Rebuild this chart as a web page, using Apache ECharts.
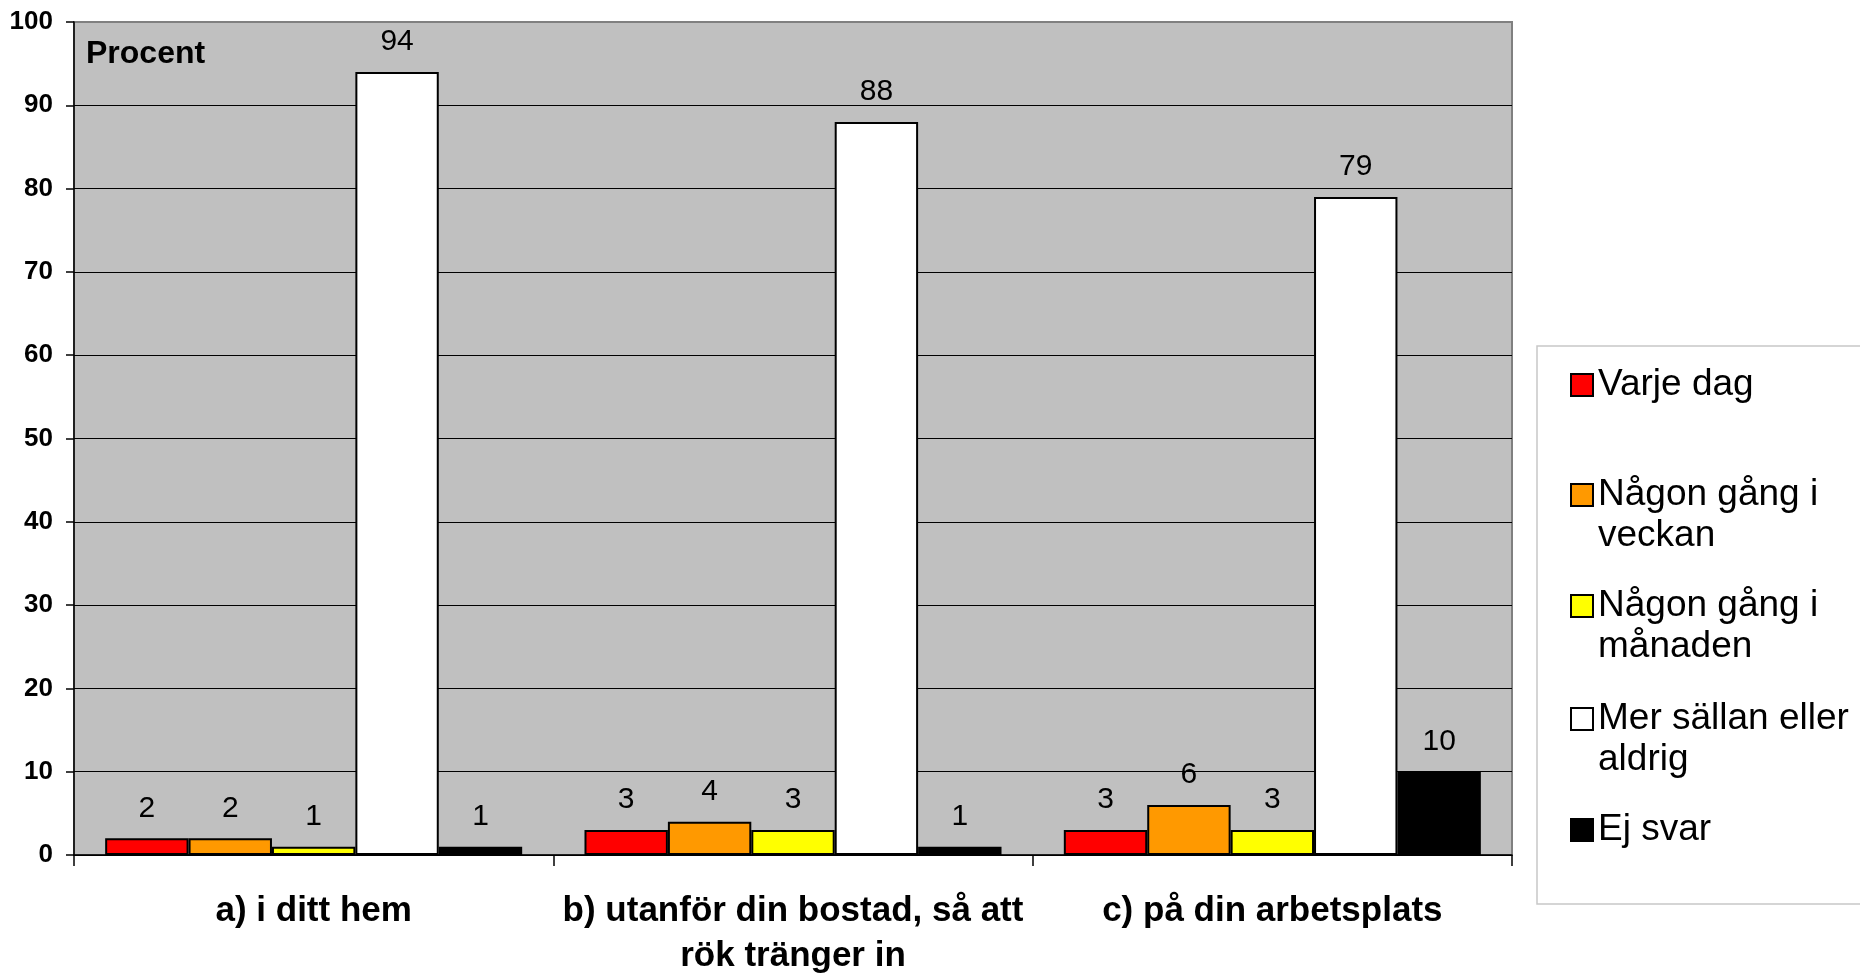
<!DOCTYPE html>
<html>
<head>
<meta charset="utf-8">
<script src="https://cdn.jsdelivr.net/npm/echarts@6/dist/echarts.min.js"></script>
<style>
html, body { margin: 0; padding: 0; background: #fff; }
#chart { width: 1860px; height: 974px; }
</style>
</head>
<body>
<div id="chart"></div>
<script>
var categories = ['a) i ditt hem', 'b) utanför din bostad, så att\nrök tränger in', 'c) på din arbetsplats'];
var seriesNames = ['Varje dag', 'Någon gång i veckan', 'Någon gång i månaden', 'Mer sällan eller aldrig', 'Ej svar'];
var legendLabels = ['Varje dag', 'Någon gång i\nveckan', 'Någon gång i\nmånaden', 'Mer sällan eller\naldrig', 'Ej svar'];
var colors = ['#FF0000', '#FF9900', '#FFFF00', '#FFFFFF', '#000000'];
var varjeDag = [2, 3, 3];
var veckan = [2, 4, 6];
var manaden = [1, 3, 3];
var sallan = [94, 88, 79];
var ejSvar = [1, 1, 10];
var values = [varjeDag, veckan, manaden, sallan, ejSvar];
var yTicks = [0, 10, 20, 30, 40, 50, 60, 70, 80, 90, 100];

var FONT = "'Liberation Sans', Arial, sans-serif";
var dom = document.getElementById('chart');
var myChart = echarts.init(dom);

var splitColors = [];
for (var i = 0; i < yTicks.length; i++) {
    splitColors.push(i === yTicks.length - 1 ? '#808080' : '#000000');
}

var series = [];
for (var s = 0; s < seriesNames.length; s++) {
    series.push({
        name: seriesNames[s],
        type: 'bar',
        data: values[s],
        barGap: '0%',
        barCategoryGap: '13%',
        itemStyle: { color: colors[s], borderColor: '#000', borderWidth: 2 },
        label: {
            show: true,
            position: 'top',
            distance: 15,
            color: '#000',
            fontFamily: FONT,
            fontSize: 30
        }
    });
}

// one legend per item; two-line texts get a blank first line so the
// marker (centred on the text block) sits level with the first real line
var legendCenters = [385, 495, 606, 719, 830];
var legends = [];
for (var k = 0; k < seriesNames.length; k++) {
    var twoLine = legendLabels[k].indexOf('\n') >= 0;
    legends.push({
        data: [seriesNames[k]],
        left: 1570,
        top: legendCenters[k] - (twoLine ? 61.5 : 20.5),
        padding: 0,
        itemWidth: 22,
        itemHeight: 22,
        icon: 'rect',
        selectedMode: false,
        itemStyle: { borderColor: '#000', borderWidth: 2 },
        formatter: function (name) {
            var lbl = legendLabels[seriesNames.indexOf(name)];
            return lbl.indexOf('\n') >= 0 ? ' \n' + lbl : lbl;
        },
        textStyle: {
            fontFamily: FONT,
            fontSize: 37,
            lineHeight: 41,
            color: '#000'
        }
    });
}

option = {
    backgroundColor: '#fff',
    animation: false,
    title: {
        text: 'Procent',
        left: 86,
        top: 38,
        padding: 0,
        textStyle: { fontFamily: FONT, fontSize: 32, fontWeight: 'bold', color: '#000' }
    },
    graphic: [{
        type: 'rect',
        z: -1,
        shape: { x: 1537, y: 346, width: 400, height: 558 },
        style: { fill: '#fff', stroke: '#c8c8c8', lineWidth: 1.5 }
    }],
    legend: legends,
    grid: {
        left: 74, right: 348, top: 22, bottom: 119,
        containLabel: false,
        outerBoundsMode: 'none',
        show: true,
        backgroundColor: '#C0C0C0',
        borderColor: '#808080',
        borderWidth: 2
    },
    xAxis: {
        type: 'category',
        data: categories,
        axisLine: { show: true, lineStyle: { color: '#000', width: 1.5 } },
        axisTick: { show: true, length: 11, lineStyle: { color: '#000', width: 1.5 } },
        axisLabel: {
            margin: 34,
            fontFamily: FONT,
            fontSize: 35,
            fontWeight: 'bold',
            lineHeight: 45,
            color: '#000',
            interval: 0
        }
    },
    yAxis: {
        type: 'value',
        min: 0,
        max: 100,
        interval: 10,
        axisLine: { show: true, lineStyle: { color: '#000', width: 1.5 } },
        axisTick: { show: true, length: 8, lineStyle: { color: '#000', width: 1.5 } },
        splitLine: { show: true, lineStyle: { color: splitColors, width: 1.2 } },
        axisLabel: {
            margin: 21,
            fontFamily: FONT,
            fontSize: 26,
            fontWeight: 'bold',
            color: '#000'
        }
    },
    series: series
};

if (option && typeof option === "object") {
    myChart.setOption(option, true);
}
</script>
</body>
</html>
